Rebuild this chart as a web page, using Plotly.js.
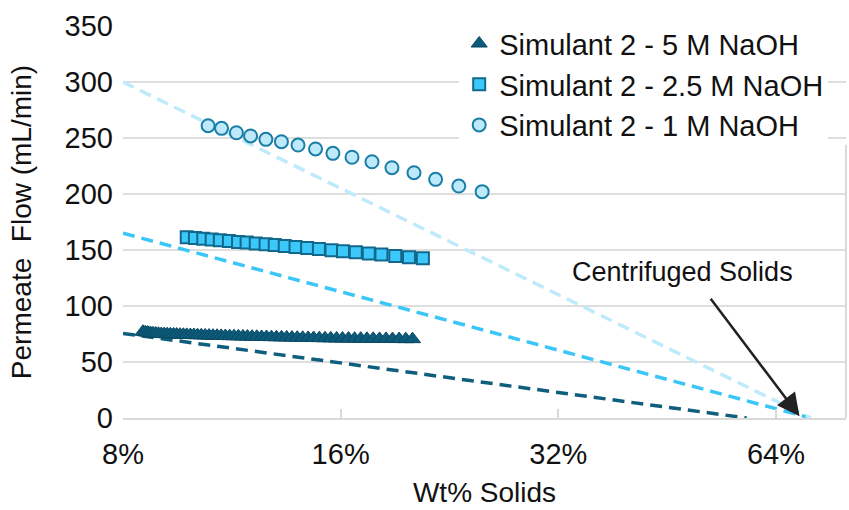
<!DOCTYPE html>
<html>
<head>
<meta charset="utf-8">
<script src="https://cdn.plot.ly/plotly-3.0.1.min.js"></script>
<style>
  html, body { margin: 0; padding: 0; background: #fff; }
  #chart { width: 849px; height: 510px; }
</style>
</head>
<body>
<div id="chart"></div>
<script>
// ---- Data ----
const seriesNames = ["Simulant 2 - 5 M NaOH", "Simulant 2 - 2.5 M NaOH", "Simulant 2 - 1 M NaOH"];

// 5 M NaOH (triangles): wt fraction solids and permeate flow (mL/min)
const wt5M = [0.08525,0.08591,0.08659,0.08729,0.08802,0.08878,0.08957,0.09038,0.09123,0.09210,
              0.09301,0.09395,0.09491,0.09592,0.09695,0.09802,0.09913,0.10027,0.10145,0.10266,
              0.10392,0.10522,0.10656,0.10794,0.10936,0.11083,0.11235,0.11392,0.11553,0.11720,
              0.11891,0.12068,0.12251,0.12440,0.12634,0.12834,0.13041,0.13255,0.13474,0.13701,
              0.13935,0.14177,0.14426,0.14683,0.14948,0.15221,0.15503,0.15794,0.16095,0.16405,
              0.16725,0.17055,0.17396,0.17748,0.18112,0.18487,0.18875,0.19275,0.19689,0.20116];
const flow5M = [77.0,76.6,76.2,75.9,75.6,75.4,75.2,75.0,74.9,74.8,
                74.7,74.6,74.5,74.4,74.3,74.2,74.1,74.0,73.9,73.8,
                73.7,73.6,73.5,73.4,73.3,73.2,73.1,73.0,72.9,72.8,
                72.7,72.6,72.5,72.4,72.3,72.2,72.1,72.0,71.9,71.8,
                71.7,71.6,71.5,71.4,71.3,71.2,71.1,71.0,70.9,70.9,
                70.8,70.8,70.7,70.7,70.6,70.6,70.5,70.5,70.4,70.4];

// 2.5 M NaOH (squares)
const wt25M = [0.0980,0.1006,0.1033,0.1061,0.1089,0.1121,0.1154,0.1186,0.1221,0.1260,
               0.1297,0.1339,0.1386,0.1438,0.1493,0.1554,0.1612,0.1679,0.1750,0.1822,
               0.1904,0.1989,0.2079];
const flow25M = [161.3,160.7,160.0,159.4,158.7,158.0,157.2,156.6,155.8,155.1,
                 154.4,153.6,152.7,151.8,150.8,149.8,148.9,147.9,146.9,145.9,
                 144.7,143.6,142.6];

// 1 M NaOH (circles)
const wt1M = [0.1049,0.1095,0.1148,0.1201,0.1261,0.1325,0.1397,0.1477,0.1561,0.1659,
              0.1768,0.1884,0.2021,0.2165,0.2331,0.2511];
const flow1M = [261.0,258.6,254.7,251.8,248.8,246.7,243.7,240.2,236.3,232.8,
                228.8,223.5,219.0,213.1,207.1,202.1];

// Dashed extrapolation lines: [start, end] in wt fraction and flow
const ext5Mwt = [0.08, 0.583];   const ext5Mflow = [75.5, 0];
const ext25Mwt = [0.08, 0.715];  const ext25Mflow = [165, 0];
const ext1Mwt = [0.08, 0.715];   const ext1Mflow = [300, 0];

// Axis ticks
const xTickVals = [0.08, 0.16, 0.32, 0.64];
const xTickText = ["8%", "16%", "32%", "64%"];
const yTickVals = [0, 50, 100, 150, 200, 250, 300, 350];

// ---- Styling ----
const cDark = "#0d5b7a", cMed = "#3cc8fa", cLight = "#bde9fa";
const FONT = "Liberation Sans, Arial, sans-serif";

const traces = [
  { x: ext5Mwt, y: ext5Mflow, mode: "lines", showlegend: false, hoverinfo: "skip",
    line: { color: "#0f5e7e", width: 3.5, dash: "12px,7px" } },
  { x: ext25Mwt, y: ext25Mflow, mode: "lines", showlegend: false, hoverinfo: "skip",
    line: { color: "#3ac6f7", width: 3.5, dash: "12px,7px" } },
  { x: ext1Mwt, y: ext1Mflow, mode: "lines", showlegend: false, hoverinfo: "skip",
    line: { color: "#bfeafb", width: 3.5, dash: "12px,7px" } },
  { x: wt5M, y: flow5M, mode: "markers", name: seriesNames[0],
    marker: { symbol: "triangle-up", size: 14, color: cDark, line: { color: "#0a4863", width: 1 } } },
  { x: wt25M, y: flow25M, mode: "markers", name: seriesNames[1],
    marker: { symbol: "square", size: 12, color: cMed, line: { color: "#12688b", width: 2 } } },
  { x: wt1M, y: flow1M, mode: "markers", name: seriesNames[2],
    marker: { symbol: "circle", size: 13, color: cLight, line: { color: "#1a7ea6", width: 2 } } }
];

const layout = {
  width: 849, height: 510,
  margin: { l: 123, r: 3, t: 26, b: 92 },
  paper_bgcolor: "#fff", plot_bgcolor: "#fff",
  font: { family: FONT, color: "#111", size: 28 },
  showlegend: true,
  legend: {
    x: 0.465, xanchor: "left", y: 1.02, yanchor: "top",
    bgcolor: "#fff", borderwidth: 0,
    font: { family: FONT, size: 29, color: "#111" },
    traceorder: "normal"
  },
  xaxis: {
    type: "log",
    range: [Math.log10(0.08), Math.log10(0.8)],
    tickvals: xTickVals, ticktext: xTickText,
    showgrid: false, zeroline: false,
    showline: true, linecolor: "#d9d9d9", linewidth: 2,
    ticks: "inside", ticklen: 9, tickwidth: 2, tickcolor: "#d9d9d9",
    ticklabelstandoff: 9,
    tickfont: { family: FONT, size: 29, color: "#111" },
    title: { text: "Wt% Solids", font: { family: FONT, size: 28, color: "#111" }, standoff: 14 }
  },
  yaxis: {
    range: [0, 350],
    tickvals: yTickVals,
    showgrid: true, gridcolor: "#dedede", gridwidth: 2,
    zeroline: false, showline: false, ticks: "",
    ticklabelstandoff: 9,
    tickfont: { family: FONT, size: 29, color: "#111" },
    title: { text: "Permeate\u00a0 Flow (mL/min)", font: { family: FONT, size: 28, color: "#111" }, standoff: 24 }
  },
  shapes: [
    { type: "line", xref: "paper", yref: "y", x0: 1, x1: 1, y0: 0, y1: 244,
      line: { color: "#d9d9d9", width: 2 } }
  ],
  annotations: [
    { xref: "x", yref: "y", x: Math.log10(0.476), y: 130, text: "Centrifuged Solids",
      showarrow: false, font: { family: FONT, size: 27, color: "#111" } },
    { xref: "x", yref: "y", x: Math.log10(0.69), y: 1.5, text: "",
      showarrow: true, ax: -90, ay: -119, arrowhead: 2, arrowsize: 1.8, arrowwidth: 2.5,
      arrowcolor: "#222" }
  ]
};

Plotly.newPlot("chart", traces, layout, { displayModeBar: false, responsive: false });
</script>
</body>
</html>
